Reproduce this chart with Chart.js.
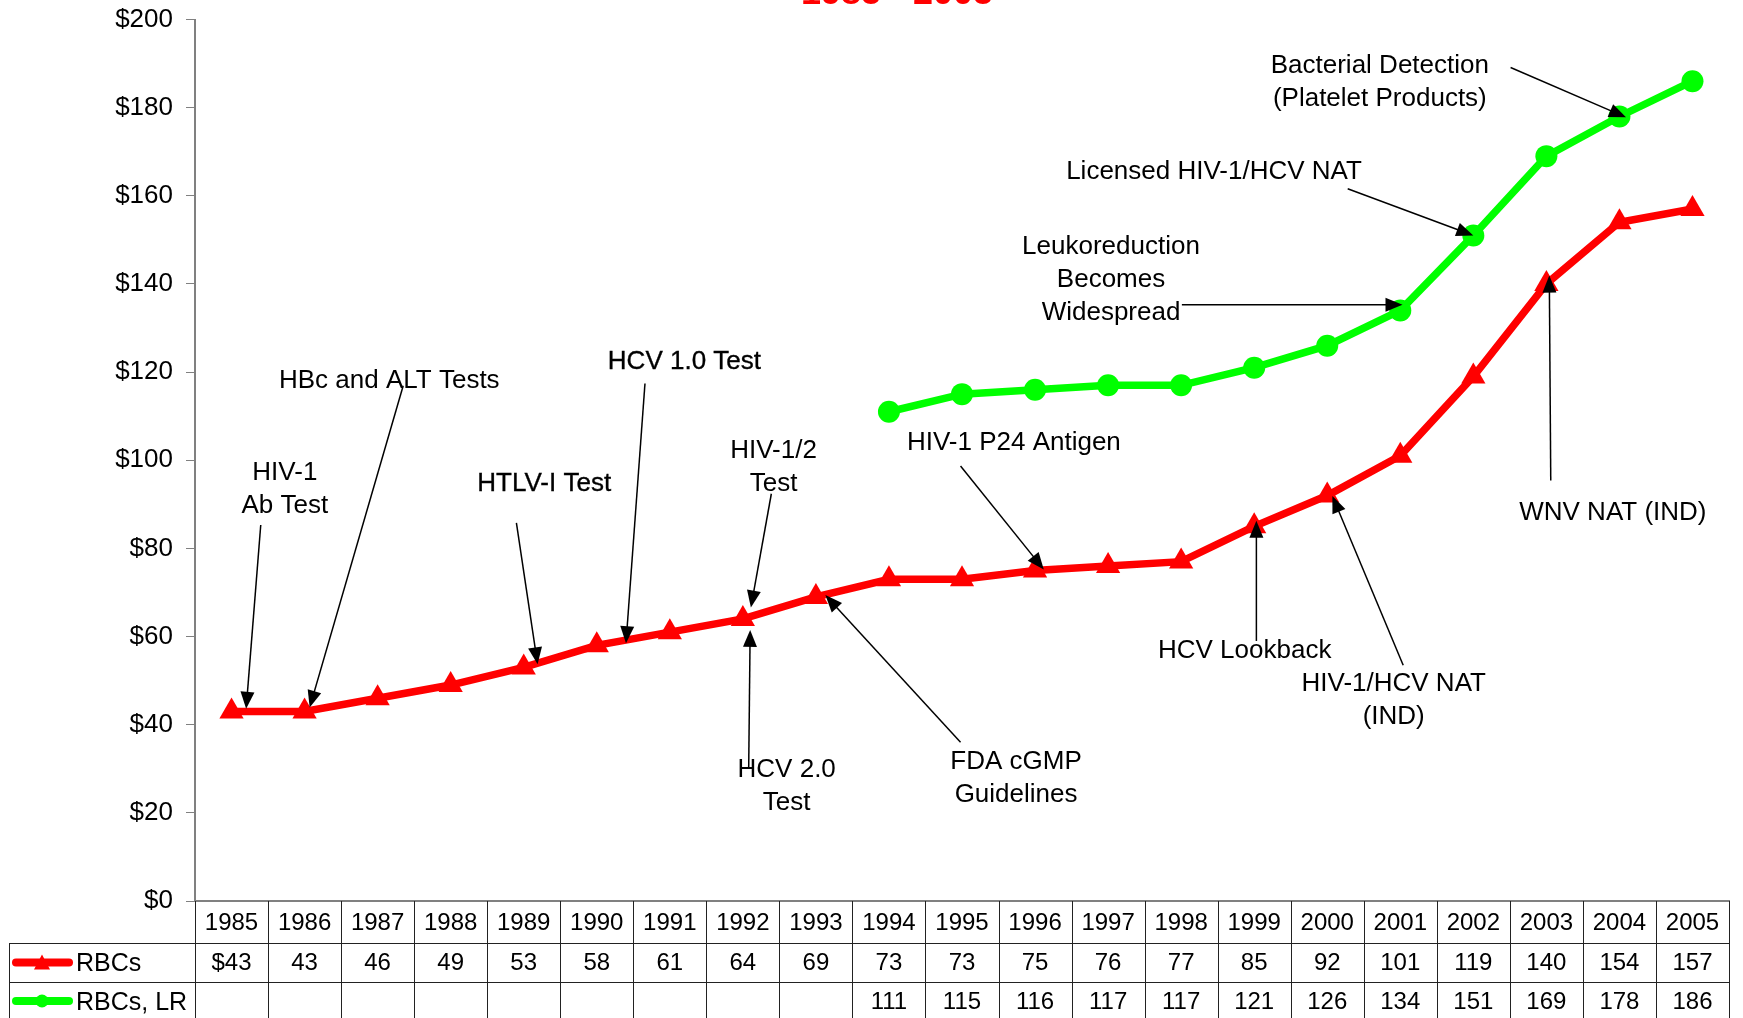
<!DOCTYPE html>
<html>
<head>
<meta charset="utf-8">
<title>RBC cost 1985 - 2005</title>
<script src="https://cdn.jsdelivr.net/npm/chart.js@4.4.1/dist/chart.umd.min.js"></script>
<style>
  body { margin: 0; background: #fff; }
  canvas { display: block; }
</style>
</head>
<body>
<canvas id="costChart" width="1743" height="1018"></canvas>
<script>
// data
const years = ['1985', '1986', '1987', '1988', '1989', '1990', '1991', '1992', '1993', '1994', '1995',
  '1996', '1997', '1998', '1999', '2000', '2001', '2002', '2003', '2004', '2005'];
const rbcValues = [43, 43, 46, 49, 53, 58, 61, 64, 69, 73, 73, 75, 76, 77, 85, 92, 101, 119, 140, 154, 157];
const rbcLrValues = [null, null, null, null, null, null, null, null, null,
  111, 115, 116, 117, 117, 121, 126, 134, 151, 169, 178, 186];
const seriesNames = ['RBCs', 'RBCs, LR'];
const yMax = 200;
const yStep = 20;

// callouts: text centre and arrow ends, in (category index, dollars)
const callouts = [
  { lines: ['HIV-1', 'Ab Test'], at: [0.73, 97.2], from: [0.40, 85.3], to: [0.20, 43.6] },
  { lines: ['HBc and ALT Tests'], at: [2.16, 118.1], from: [2.35, 116.9], to: [1.07, 43.9] },
  { lines: ['HTLV-I Test'], at: [4.28, 94.7], from: [3.90, 85.8], to: [4.19, 53.7], heavy: true },
  { lines: ['HCV 1.0 Test'], at: [6.20, 122.4], from: [5.66, 117.4], to: [5.40, 58.5], heavy: true },
  { lines: ['HIV-1/2', 'Test'], at: [7.42, 102.2], from: [7.39, 92.4], to: [7.11, 66.6] },
  { lines: ['HCV 2.0', 'Test'], at: [7.60, 29.7], from: [7.08, 30.2], to: [7.10, 61.5] },
  { lines: ['FDA cGMP', 'Guidelines'], at: [10.74, 31.5], from: [9.98, 36.0], to: [8.13, 69.4] },
  { lines: ['HIV-1 P24 Antigen'], at: [10.71, 104.0], from: [9.98, 98.7], to: [11.12, 75.2] },
  { lines: ['Leukoreduction', 'Becomes', 'Widespread'], at: [12.04, 148.4], from: [13.01, 135.3], to: [16.03, 135.3] },
  { lines: ['Licensed HIV-1/HCV NAT'], at: [13.45, 165.4], from: [15.28, 161.6], to: [17.0, 151.0] },
  { lines: ['Bacterial Detection', '(Platelet Products)'], at: [15.72, 189.4], from: [17.51, 189.1], to: [19.09, 177.8] },
  { lines: ['HCV Lookback'], at: [13.87, 56.7], from: [14.03, 59.0], to: [14.03, 86.3] },
  { lines: ['HIV-1/HCV NAT', '(IND)'], at: [15.91, 49.2], from: [16.04, 53.5], to: [15.07, 91.9] },
  { lines: ['WNV NAT (IND)'], at: [18.91, 88.1], from: [18.06, 95.4], to: [18.04, 141.9] }
];

const RED = '#ff0000';
const GREEN = '#00ff00';
const FONT = 'Arial, "Liberation Sans", sans-serif';

function drawArrow(ctx, x1, y1, x2, y2) {
  const ang = Math.atan2(y2 - y1, x2 - x1);
  const len = 17, half = 7;
  ctx.beginPath();
  ctx.moveTo(x1, y1);
  ctx.lineTo(x2 - Math.cos(ang) * (len - 2), y2 - Math.sin(ang) * (len - 2));
  ctx.stroke();
  ctx.beginPath();
  ctx.moveTo(x2, y2);
  ctx.lineTo(x2 - Math.cos(ang) * len - Math.sin(ang) * half, y2 - Math.sin(ang) * len + Math.cos(ang) * half);
  ctx.lineTo(x2 - Math.cos(ang) * len + Math.sin(ang) * half, y2 - Math.sin(ang) * len - Math.cos(ang) * half);
  ctx.closePath();
  ctx.fill();
}

// title (only the bottom of it shows at the top edge) and the arrows with labels
const calloutPlugin = {
  id: 'callouts',
  afterDatasetsDraw(chart) {
    const ctx = chart.ctx;
    const xs = chart.scales.x, ys = chart.scales.y;
    ctx.save();
    ctx.fillStyle = RED;
    ctx.font = 'bold 36px ' + FONT;
    ctx.textAlign = 'center';
    ctx.textBaseline = 'alphabetic';
    ctx.fillText('1985 - 2005', 897, 4);

    ctx.strokeStyle = '#000';
    ctx.fillStyle = '#000';
    ctx.lineWidth = 1.5;
    callouts.forEach(c => {
      drawArrow(ctx,
        xs.getPixelForValue(c.from[0]), ys.getPixelForValue(c.from[1]),
        xs.getPixelForValue(c.to[0]), ys.getPixelForValue(c.to[1]));
    });
    ctx.font = '26px ' + FONT;
    ctx.textBaseline = 'middle';
    ctx.lineWidth = 0.35;
    callouts.forEach(c => {
      const cx = xs.getPixelForValue(c.at[0]);
      const cy = ys.getPixelForValue(c.at[1]);
      c.lines.forEach((t, i) => {
        ctx.fillText(t, cx, cy + i * 33);
        if (c.heavy) ctx.strokeText(t, cx, cy + i * 33);
      });
    });
    ctx.restore();
  }
};

// data table under the x axis
const tablePlugin = {
  id: 'dataTable',
  afterDraw(chart) {
    const ctx = chart.ctx;
    const xs = chart.scales.x;
    const area = chart.chartArea;
    const top = area.bottom;
    const rowH = [42, 39, 38];
    const tableLeft = 9;
    const colW = xs.getPixelForValue(1) - xs.getPixelForValue(0);
    const r1 = top + rowH[0], r2 = r1 + rowH[1], r3 = r2 + rowH[2];

    ctx.save();
    ctx.strokeStyle = '#222';
    ctx.lineWidth = 1;
    // vertical cell borders
    for (let i = 0; i <= years.length; i++) {
      const x = Math.round(xs.getPixelForValue(i) - colW / 2) + 0.5;
      ctx.beginPath();
      ctx.moveTo(x, top);
      ctx.lineTo(x, r3);
      ctx.stroke();
    }
    ctx.beginPath();
    ctx.moveTo(tableLeft + 0.5, r1);
    ctx.lineTo(tableLeft + 0.5, r3);
    [r1, r2].forEach(y => {
      ctx.moveTo(tableLeft, Math.round(y) + 0.5);
      ctx.lineTo(area.right, Math.round(y) + 0.5);
    });
    ctx.stroke();

    ctx.fillStyle = '#000';
    ctx.font = '24px ' + FONT;
    ctx.textAlign = 'center';
    ctx.textBaseline = 'middle';
    years.forEach((y, i) => {
      const x = xs.getPixelForValue(i);
      ctx.fillText(y, x, top + rowH[0] / 2 + 1);
      ctx.fillText(i === 0 ? '$' + rbcValues[i] : String(rbcValues[i]), x, r1 + rowH[1] / 2 + 1);
      if (rbcLrValues[i] !== null) {
        ctx.fillText(String(rbcLrValues[i]), x, r2 + rowH[2] / 2 + 1);
      }
    });

    // legend keys in the first column
    const keys = [
      { y: r1 + rowH[1] / 2, color: RED, shape: 'triangle' },
      { y: r2 + rowH[2] / 2, color: GREEN, shape: 'circle' }
    ];
    ctx.font = '25px ' + FONT;
    keys.forEach((k, i) => {
      ctx.strokeStyle = k.color;
      ctx.fillStyle = k.color;
      ctx.lineWidth = 8;
      ctx.lineCap = 'round';
      ctx.beginPath();
      ctx.moveTo(16, k.y);
      ctx.lineTo(69, k.y);
      ctx.stroke();
      ctx.beginPath();
      if (k.shape === 'triangle') {
        ctx.moveTo(42, k.y - 8);
        ctx.lineTo(50, k.y + 7);
        ctx.lineTo(34, k.y + 7);
        ctx.closePath();
      } else {
        ctx.arc(42, k.y, 6.5, 0, Math.PI * 2);
      }
      ctx.fill();
      ctx.fillStyle = '#000';
      ctx.textAlign = 'left';
      ctx.fillText(seriesNames[i], 76, k.y + 2);
    });
    ctx.restore();
  }
};

const chart = new Chart(document.getElementById('costChart'), {
  type: 'line',
  data: {
    labels: years,
    datasets: [
      {
        label: seriesNames[0],
        data: rbcValues,
        borderColor: RED,
        backgroundColor: RED,
        borderWidth: 7.5,
        pointStyle: 'triangle',
        pointRadius: 14,
        pointBorderWidth: 0,
        tension: 0
      },
      {
        label: seriesNames[1],
        data: rbcLrValues,
        borderColor: GREEN,
        backgroundColor: GREEN,
        borderWidth: 7.5,
        pointStyle: 'circle',
        pointRadius: 11,
        pointBorderWidth: 0,
        tension: 0
      }
    ]
  },
  options: {
    responsive: false,
    animation: false,
    devicePixelRatio: 1,
    layout: { padding: { top: 15, right: 8, bottom: 117, left: 0 } },
    plugins: {
      legend: { display: false },
      tooltip: { enabled: false }
    },
    scales: {
      x: {
        offset: true,
        afterFit(scale) { scale.height = 0; },
        grid: { display: false },
        ticks: { display: false },
        border: { color: '#808080', width: 2 }
      },
      y: {
        min: 0,
        max: yMax,
        afterFit(scale) { scale.width = 195; },
        ticks: {
          stepSize: yStep,
          color: '#000',
          padding: 13,
          font: { family: FONT, size: 26, lineHeight: 0.5 },
          callback: v => '$' + v
        },
        grid: { drawOnChartArea: false, tickLength: 9, color: '#808080' },
        border: { color: '#808080', width: 2 }
      }
    }
  },
  plugins: [calloutPlugin, tablePlugin]
});
</script>
</body>
</html>
